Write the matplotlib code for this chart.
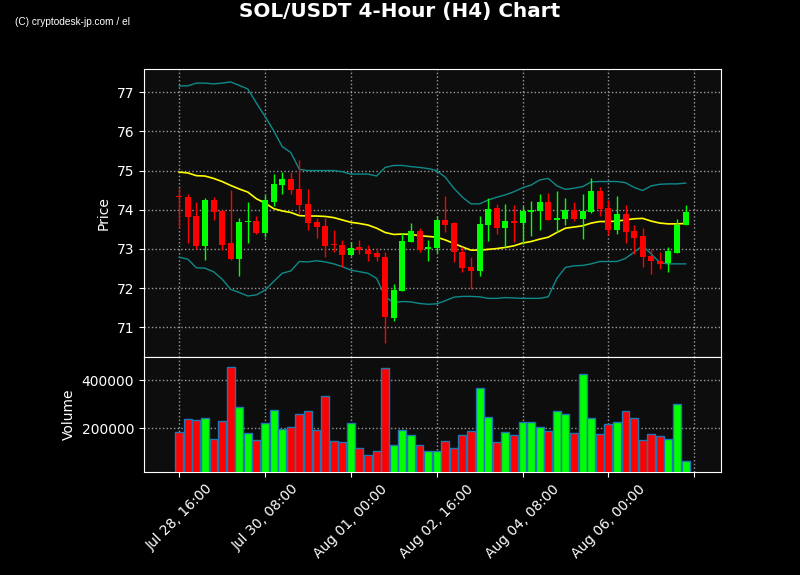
import matplotlib
matplotlib.use("Agg")
import matplotlib.pyplot as plt
import numpy as np
import pandas as pd

start = pd.Timestamp("2024-07-28 16:00")
n_candles = 60
dates = [start + pd.Timedelta(hours=4 * k) for k in range(n_candles)]

opens = [74.34, 74.32, 73.83, 73.08, 74.24, 73.96, 73.14, 72.74, 73.70, 73.71,
         73.41, 74.20, 74.63, 74.78, 74.52, 74.15, 73.68, 73.58, 73.11, 73.09,
         72.85, 73.04, 72.98, 72.89, 72.80, 71.25, 71.94, 73.19, 73.46, 72.99,
         73.03, 73.74, 73.66, 72.92, 72.54, 72.44, 73.61, 74.05, 73.54, 73.72,
         73.67, 73.94, 73.97, 74.19, 73.73, 73.76, 73.99, 73.76, 73.94, 74.47,
         74.04, 73.48, 73.89, 73.45, 73.32, 72.81, 72.70, 72.63, 72.90, 73.61]
highs = [74.56, 74.39, 74.21, 74.30, 74.33, 74.00, 74.51, 73.80, 74.21, 73.84,
         74.37, 74.90, 74.97, 74.97, 75.28, 74.54, 73.80, 73.80, 73.48, 73.22,
         73.17, 73.22, 73.09, 73.03, 72.93, 72.11, 73.40, 73.66, 73.53, 73.22,
         73.84, 74.35, 73.70, 73.06, 72.80, 73.83, 74.29, 74.14, 74.14, 74.11,
         74.10, 74.22, 74.39, 74.44, 74.49, 74.29, 74.21, 74.39, 74.82, 74.59,
         74.24, 74.34, 74.11, 73.62, 73.54, 72.99, 72.92, 73.06, 73.77, 74.11]
lows = [73.54, 73.16, 72.99, 72.73, 73.73, 72.98, 72.73, 72.32, 73.14, 73.39,
        73.31, 74.10, 74.41, 74.39, 73.89, 73.49, 73.29, 72.80, 72.91, 72.55,
        72.83, 72.86, 72.69, 72.69, 70.59, 71.17, 71.93, 73.18, 72.93, 72.69,
        72.89, 73.44, 72.68, 72.42, 71.97, 72.31, 73.21, 73.37, 73.06, 73.19,
        73.13, 73.32, 73.49, 73.73, 73.43, 73.62, 73.71, 73.25, 73.92, 73.85,
        73.35, 73.39, 73.16, 72.86, 72.54, 72.35, 72.48, 72.41, 72.90, 73.61]
closes = [74.33, 73.82, 73.08, 74.26, 73.94, 73.10, 72.74, 73.68, 73.71, 73.41,
          74.24, 74.65, 74.78, 74.51, 74.12, 73.66, 73.56, 73.08, 73.10, 72.85,
          73.03, 72.98, 72.87, 72.79, 71.27, 71.95, 73.20, 73.46, 72.97, 73.05,
          73.74, 73.61, 72.91, 72.52, 72.44, 73.64, 74.02, 73.54, 73.71, 73.66,
          73.97, 74.00, 74.19, 73.74, 73.78, 73.99, 73.76, 73.96, 74.47, 74.02,
          73.48, 73.89, 73.43, 73.28, 72.80, 72.69, 72.62, 72.94, 73.62, 73.94]
volumes = [183000, 237500, 233000, 241500, 155500, 230500, 454000, 287500, 179000, 150000,
           221000, 275000, 196000, 204000, 258000, 271000, 191500, 333000, 146000, 141500,
           221000, 116500, 87500, 104000, 450000, 129000, 191500, 171000, 129000, 104000,
           104000, 146000, 116500, 171000, 187500, 366500, 246000, 141500, 183000, 171000,
           225000, 225000, 204000, 187500, 271000, 258000, 179000, 425000, 241500, 175000,
           216500, 225000, 271000, 241500, 150000, 175000, 166500, 154000, 300000, 62500]
bb_mid = [74.96, 74.94, 74.87, 74.86, 74.80, 74.72, 74.62, 74.53, 74.45, 74.28,
          74.17, 74.03, 73.97, 73.93, 73.85, 73.84, 73.84, 73.83, 73.80, 73.74,
          73.68, 73.65, 73.61, 73.53, 73.42, 73.37, 73.38, 73.37, 73.34, 73.32,
          73.30, 73.23, 73.14, 73.05, 72.97, 72.97, 72.99, 73.01, 73.04, 73.08,
          73.15, 73.19, 73.25, 73.30, 73.42, 73.53, 73.56, 73.59, 73.66, 73.70,
          73.70, 73.71, 73.74, 73.77, 73.78, 73.71, 73.66, 73.64, 73.64, 73.65]
bb_upper = [77.16, 77.16, 77.23, 77.23, 77.21, 77.23, 77.26, 77.17, 77.08, 76.72,
            76.38, 76.02, 75.61, 75.46, 75.03, 75.00, 75.00, 75.00, 75.00, 74.97,
            74.91, 74.91, 74.91, 74.86, 75.08, 75.13, 75.13, 75.10, 75.08, 75.05,
            75.00, 74.83, 74.55, 74.32, 74.15, 74.15, 74.25, 74.32, 74.38, 74.46,
            74.56, 74.63, 74.76, 74.80, 74.61, 74.52, 74.55, 74.59, 74.71, 74.72,
            74.72, 74.72, 74.69, 74.57, 74.49, 74.61, 74.65, 74.66, 74.66, 74.68]
bb_lower = [72.79, 72.74, 72.52, 72.51, 72.42, 72.23, 71.97, 71.89, 71.80, 71.83,
            71.95, 72.17, 72.38, 72.44, 72.68, 72.67, 72.70, 72.67, 72.62, 72.55,
            72.46, 72.42, 72.38, 72.25, 71.78, 71.63, 71.66, 71.65, 71.61, 71.59,
            71.60, 71.68, 71.77, 71.79, 71.79, 71.78, 71.74, 71.74, 71.76, 71.75,
            71.74, 71.74, 71.74, 71.78, 72.25, 72.53, 72.57, 72.58, 72.62, 72.68,
            72.68, 72.68, 72.76, 72.92, 73.08, 72.87, 72.65, 72.62, 72.62, 72.62]
price_ticks = [71, 72, 73, 74, 75, 76, 77]
volume_ticks = [200000, 400000]

UP = "#00ff00"
DOWN = "#ff0000"
BG = "#0d0d0d"

fig = plt.figure(figsize=(8, 5.75), dpi=100, facecolor="black")
ax = fig.add_axes([0.18, 0.3795, 0.721, 0.5005])
axv = fig.add_axes([0.18, 0.179, 0.721, 0.2005], sharex=ax)

x = np.arange(n_candles)
o = np.array(opens); c = np.array(closes); h = np.array(highs); l = np.array(lows)
up = c >= o
colors = np.where(up, UP, DOWN)

for a in (ax, axv):
    a.set_facecolor(BG)
    for s in a.spines.values():
        s.set_color("white")
    a.tick_params(colors="white", labelsize=10)
    a.grid(True, color="#aaaaaa", linestyle=":", linewidth=1.0, alpha=0.9)
    a.set_axisbelow(True)

# candles
ax.vlines(x, l, h, colors=colors, linewidth=1.0, zorder=3)
body_bottom = np.minimum(o, c)
body_h = np.maximum(np.abs(c - o), 0.02)
ax.bar(x, body_h, bottom=body_bottom, width=0.7, color=colors, linewidth=0, zorder=4)

ax.plot(x, bb_upper, color="#0e8a8a", linewidth=1.0, zorder=2)
ax.plot(x, bb_lower, color="#0e8a8a", linewidth=1.0, zorder=2)
ax.plot(x, bb_mid, color="yellow", linewidth=1.2, zorder=2)

ax.set_ylim(70.25, 77.59)
ax.set_yticks(price_ticks)
ax.set_ylabel("Price", color="white", fontsize=10)
ax.tick_params(axis="x", labelbottom=False)

axv.bar(x, volumes, width=0.92, color=colors, edgecolor="#1f77b4", linewidth=1.0, zorder=3)
axv.set_ylim(18000, 498500)
axv.set_yticks(volume_ticks)
axv.set_yticklabels([str(v) for v in volume_ticks])
axv.set_ylabel("Volume", color="white", fontsize=10)

xt = list(range(0, 61, 10))
axv.set_xticks(xt)
axv.set_xticklabels([dates[k].strftime("%b %d, %H:%M") if k < n_candles else "" for k in xt],
                    rotation=45)
axv.set_xlim(-4.1, 63.1)

fig.suptitle("SOL/USDT 4-Hour (H4) Chart", color="white", fontsize=14.4, fontweight="bold", y=0.996)
fig.text(0.019, 0.9625, "(C) cryptodesk-jp.com / el", color="white", fontsize=7.25,
         family="Liberation Sans", va="center", ha="left")

fig.savefig("out.png", dpi=100, facecolor="black")
